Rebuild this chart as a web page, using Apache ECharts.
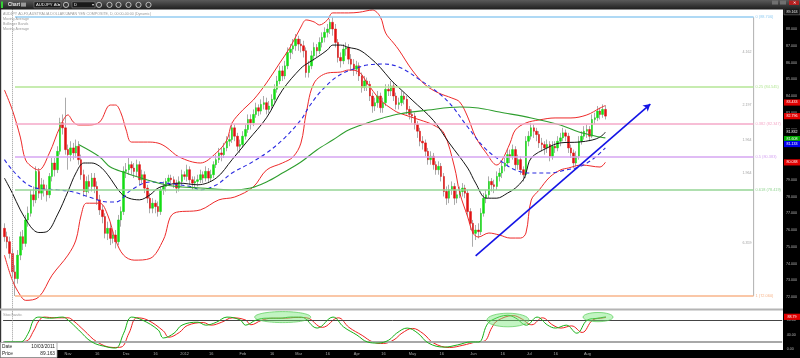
<!DOCTYPE html>
<html><head><meta charset="utf-8">
<script src="https://cdn.jsdelivr.net/npm/echarts/dist/echarts.min.js"></script>
<style>html,body{margin:0;padding:0;background:#fff;}#c{width:800px;height:358px;}</style>
</head><body><div id="c"></div>
<script>
// ---------------- DATA ----------------
const startDate = '2011-09-28';
const totalBars = 294;   // trading-day slots on the axis (data + empty future)
const open = [
76.1,75.6,75.3,74.6,73.5,73.1,74.5,75.6,75.2,76.6,
77.0,78.1,77.8,79.5,78.2,78.7,78.4,78.1,79.2,80.0,
79.6,80.7,82.4,82.1,80.8,80.5,80.9,80.6,81.0,80.2,
79.3,78.3,78.9,78.6,79.1,78.6,77.8,77.2,76.8,75.8,
76.1,75.5,75.7,75.3,76.6,77.1,79.5,79.6,79.9,79.7,
79.5,79.9,79.0,79.3,78.5,77.9,77.3,77.6,77.4,77.1,
78.4,78.6,78.9,79.1,79.0,78.8,78.5,78.9,79.3,79.2,
79.6,79.0,78.8,78.9,79.0,79.3,79.1,79.5,79.1,79.3,
79.9,80.2,80.6,80.5,80.9,81.3,81.4,82.1,81.6,81.0,
81.1,81.6,82.0,82.6,82.4,82.9,83.3,83.1,83.5,83.6,
83.2,83.4,83.8,84.4,84.9,85.5,85.2,85.8,86.6,86.8,
87.0,87.4,87.1,87.0,86.7,85.4,85.8,86.4,86.9,86.7,
87.2,87.5,87.8,88.0,88.4,88.0,87.2,86.3,86.1,86.8,
86.9,86.2,85.9,85.6,85.8,85.2,84.5,84.9,84.7,84.0,
83.4,83.6,84.0,83.3,83.6,84.4,84.3,84.6,84.0,83.5,
83.6,84.0,83.8,83.2,82.9,82.8,82.3,81.9,81.3,81.2,
80.7,80.2,80.4,79.9,79.6,79.8,79.2,78.3,77.9,78.4,
78.6,77.9,78.1,78.3,78.5,78.2,77.1,76.4,75.8,76.0,
75.9,77.0,77.9,78.1,78.9,78.7,78.6,79.2,79.4,79.8,
80.0,80.5,80.4,80.8,79.9,80.2,79.6,79.3,81.3,81.6,
82.1,81.9,81.7,81.2,81.1,80.9,81.1,80.4,81.0,80.9,
81.3,81.5,81.8,81.6,80.9,80.6,80.0,80.4,81.3,81.6,
81.9,82.0,81.6,82.6,82.7,83.1,82.9,83.2];
const close = [
75.6,75.3,74.6,73.5,73.1,74.5,75.6,75.2,76.6,77.0,
78.1,77.8,79.5,78.2,78.7,78.4,78.1,79.2,80.0,79.6,
80.7,82.4,82.1,80.8,80.5,80.9,80.6,81.0,80.2,79.3,
78.3,78.9,78.6,79.1,78.6,77.8,77.2,76.8,75.8,76.1,
75.5,75.7,75.3,76.6,77.1,79.5,79.6,79.9,79.7,79.5,
79.9,79.0,79.3,78.5,77.9,77.3,77.6,77.4,77.1,78.4,
78.6,78.9,79.1,79.0,78.8,78.5,78.9,79.3,79.2,79.6,
79.0,78.8,78.9,79.0,79.3,79.1,79.5,79.1,79.3,79.9,
80.2,80.6,80.5,80.9,81.3,81.4,82.1,81.6,81.0,81.1,
81.6,82.0,82.6,82.4,82.9,83.3,83.1,83.5,83.6,83.2,
83.4,83.8,84.4,84.9,85.5,85.2,85.8,86.6,86.8,87.0,
87.4,87.1,87.0,86.7,85.4,85.8,86.4,86.9,86.7,87.2,
87.5,87.8,88.0,88.4,88.0,87.2,86.3,86.1,86.8,86.9,
86.2,85.9,85.6,85.8,85.2,84.5,84.9,84.7,84.0,83.4,
83.6,84.0,83.3,83.6,84.4,84.3,84.6,84.0,83.5,83.6,
84.0,83.8,83.2,82.9,82.8,82.3,81.9,81.3,81.2,80.7,
80.2,80.4,79.9,79.6,79.8,79.2,78.3,77.9,78.4,78.6,
77.9,78.1,78.3,78.5,78.2,77.1,76.4,75.8,76.0,75.9,
77.0,77.9,78.1,78.9,78.7,78.6,79.2,79.4,79.8,80.0,
80.5,80.4,80.8,79.9,80.2,79.6,79.3,81.3,81.6,82.1,
81.9,81.7,81.2,81.1,80.9,81.1,80.4,81.0,80.9,81.3,
81.5,81.8,81.6,80.9,80.6,80.0,80.4,81.3,81.6,81.9,
82.0,81.6,82.6,82.7,83.1,82.9,83.2,82.8];
const low = [
75.3,74.9,74.3,73.2,72.06,72.8,74.2,74.8,75.0,76.2,
76.8,77.4,77.6,77.9,77.8,78.0,77.7,77.9,78.9,79.2,
79.4,80.5,81.7,80.5,79.6,80.1,80.2,80.3,79.9,79.0,
78.0,78.0,78.2,78.3,78.2,77.5,76.9,76.4,75.5,75.4,
75.1,75.2,74.9,75.1,76.2,76.9,79.1,79.3,79.3,79.1,
79.2,78.7,78.8,78.2,77.6,77.0,77.0,77.0,76.8,76.9,
78.1,78.3,78.7,78.8,78.5,78.2,78.3,78.7,79.0,78.9,
78.7,78.4,78.5,78.6,78.8,78.8,78.9,78.8,78.9,79.1,
79.7,80.0,80.1,80.3,80.7,81.0,81.2,81.3,80.7,80.6,
80.9,81.4,81.8,82.0,82.2,82.7,82.8,82.9,83.2,82.9,
83.0,83.2,83.6,84.2,84.7,84.9,85.0,85.6,86.2,86.5,
86.7,86.7,86.6,86.3,85.1,85.1,85.6,86.1,86.3,86.5,
86.9,87.2,87.5,87.7,87.6,86.9,86.0,85.7,85.9,86.4,
85.9,85.5,85.2,85.3,84.9,84.2,84.3,84.3,83.7,83.0,
83.1,83.3,83.0,83.0,83.4,84.0,84.0,83.7,83.2,83.2,
83.4,83.5,82.9,82.6,82.4,82.0,81.5,81.0,80.8,80.4,
79.9,79.9,79.6,79.3,79.3,78.9,78.0,77.5,77.6,78.1,
77.5,77.6,77.9,78.0,77.9,76.8,76.0,75.0,75.4,75.5,
75.7,76.8,77.6,77.9,78.3,78.2,78.4,78.9,79.1,79.5,
79.8,80.0,80.2,79.6,79.6,79.3,78.9,79.1,81.0,81.4,
81.5,81.3,80.9,80.7,80.5,80.6,80.1,80.2,80.6,80.7,
81.0,81.3,81.3,80.6,80.3,79.7,79.8,80.2,81.1,81.4,
81.5,81.3,81.5,82.3,82.5,82.6,82.7,82.6];
const high = [
76.4,75.9,75.6,74.9,73.9,74.8,75.9,76.0,76.9,77.4,
78.4,78.6,79.8,79.7,79.1,79.0,78.7,79.4,80.3,80.3,
81.0,82.7,82.9,83.9,81.1,81.3,81.2,81.4,81.3,80.5,
79.6,79.2,79.3,79.4,79.4,78.9,78.1,77.5,77.0,76.5,
76.4,76.0,76.0,76.9,77.4,79.8,80.0,80.3,80.1,80.0,
80.2,80.1,79.6,79.5,78.7,78.2,77.9,77.8,77.7,78.6,
78.9,79.1,79.3,79.3,79.2,79.0,79.2,79.6,79.5,79.9,
79.8,79.2,79.2,79.3,79.6,79.5,79.8,79.7,79.6,80.1,
80.5,80.9,80.9,81.2,81.6,81.7,82.4,82.3,81.8,81.4,
81.9,82.3,82.9,82.9,83.2,83.6,83.5,83.8,84.0,83.9,
83.7,84.1,84.7,85.2,85.8,85.8,86.1,86.9,87.1,87.4,
87.7,87.6,87.4,87.3,86.9,86.1,86.7,87.2,87.1,87.5,
87.8,88.1,88.3,88.6,88.706,88.3,87.4,86.6,87.1,87.2,
87.1,86.5,86.2,86.1,86.0,85.4,85.2,85.1,84.9,84.2,
83.9,84.3,84.2,83.9,84.7,84.7,84.9,84.8,84.2,83.9,
84.3,84.2,84.0,83.4,83.2,83.0,82.5,82.1,81.6,81.4,
80.9,80.7,80.6,80.1,80.1,80.0,79.4,78.6,78.7,78.9,
78.8,78.4,78.6,78.8,78.7,78.4,77.3,76.6,76.3,76.4,
77.3,78.2,78.4,79.2,79.1,79.0,79.5,79.7,80.1,80.3,
80.8,80.8,81.1,81.0,80.5,80.4,79.8,81.6,81.9,82.4,
82.3,82.1,81.9,81.5,81.3,81.4,81.3,81.3,81.3,81.6,
81.8,82.1,82.0,81.8,81.1,80.8,80.7,81.6,81.9,82.2,
82.3,82.2,82.9,83.0,83.4,83.3,83.5,83.43];

// indicator lines: [bar slot, value]
const bbUpper = [[0,84.36],[3,83.16],[6,81.55],[8,80.18],[11,79.7],[13,79.58],[17,80.6],[21,82.15],[24,82.87],[26,82.45],[28,82.27],[32,82.27],[36,82.45],[40,83.46],[42,83.46],[44,82.99],[46,81.97],[48,81.25],[54,81.25],[58,81.19],[61,80.96],[66,80.36],[74,80.0],[80,80.6],[84,81.37],[86,82.39],[90,83.16],[94,83.76],[99,84.78],[104,85.97],[108,86.93],[112,88.12],[114,88.54],[117,88.42],[119,88.24],[122,88.54],[124,88.96],[130,88.96],[134,89.0],[139,89.13],[142,88.72],[144,87.76],[147,87.16],[149,86.75],[154,85.55],[159,84.66],[164,84.18],[169,83.88],[172,83.64],[175,82.75],[178,81.55],[182,80.6],[186,79.88],[188,80.18],[191,81.19],[193,81.97],[197,82.39],[202,82.57],[208,82.69],[214,82.69],[220,82.87],[225,83.28],[227,83.43]];
const bbLower = [[0,74.5],[3,73.0],[6,72.1],[8,71.8],[13,72.0],[18,73.3],[24,74.5],[27,75.4],[29,76.9],[31,77.6],[36,77.6],[39,76.9],[42,75.4],[45,74.5],[49,74.2],[55,74.3],[60,75.4],[64,77.0],[74,77.2],[81,77.8],[87,77.97],[94,78.57],[99,79.58],[105,80.0],[109,80.36],[112,81.19],[114,82.99],[117,84.78],[122,85.37],[127,85.43],[130,85.55],[134,85.43],[137,84.78],[142,83.76],[147,83.16],[149,82.99],[157,82.57],[162,82.27],[166,81.79],[170,79.76],[172,78.21],[175,76.78],[177,75.82],[179,75.58],[183,75.82],[187,75.7],[191,75.52],[195,75.52],[197,75.82],[199,77.79],[202,78.39],[206,79.16],[210,79.58],[213,79.7],[218,79.88],[225,79.76],[227,80.04]];
const maBlack = [[0,79.1],[3,78.2],[6,77.2],[9,76.4],[11,76.0],[13,75.85],[16,75.9],[20,76.9],[24,78.3],[27,79.4],[30,80.0],[33,80.0],[36,79.8],[39,79.3],[44,78.2],[47,77.9],[51,77.8],[55,78.1],[58,78.5],[62,78.7],[66,78.8],[73,78.7],[80,79.1],[86,80.2],[92,81.35],[99,82.7],[105,84.35],[112,85.66],[115,86.0],[118,86.3],[122,86.75],[124,87.04],[127,87.04],[130,86.9],[134,86.75],[138,86.3],[142,85.7],[146,84.95],[149,84.5],[154,83.76],[162,82.55],[168,81.2],[175,79.7],[178,78.8],[182,77.9],[186,77.9],[190,78.2],[193,78.5],[196,79.0],[197,79.4],[199,80.3],[205,80.9],[210,81.2],[217,81.25],[222,81.37],[225,81.55],[227,81.83]];
const maBlue = [[0,80.2],[3,79.58],[8,78.8],[12,78.5],[20,78.4],[26,78.27],[32,77.97],[39,77.67],[42,77.67],[48,78.4],[55,78.87],[61,78.8],[66,78.7],[71,78.57],[74,78.39],[80,78.69],[86,79.4],[93,80.0],[99,80.6],[105,81.37],[112,82.57],[115,83.34],[119,84.18],[124,84.96],[128,85.37],[133,85.67],[137,85.85],[143,85.91],[149,85.73],[157,84.96],[167,83.76],[175,82.15],[181,80.96],[187,80.18],[193,79.58],[199,79.4],[206,79.4],[212,79.58],[217,79.76],[222,80.2],[227,80.9]];
const maGreen = [[28,81.1],[36,80.36],[40,79.76],[46,79.4],[48,79.28],[54,78.99],[61,78.69],[67,78.57],[74,78.51],[86,78.39],[93,78.51],[99,78.87],[105,79.4],[112,80.06],[118,80.78],[124,81.37],[130,81.97],[137,82.39],[143,82.69],[149,82.93],[160,83.16],[172,83.34],[179,83.28],[187,83.04],[199,82.69],[210,82.27],[217,81.85],[225,81.55],[227,81.5]];
const stochK = [[0,20],[6,20],[9,44],[11,80],[13,88],[17,85],[22,88],[24,80],[28,53],[33,20],[39,6],[42,3.5],[45,44],[48,88],[52,80],[58,53],[60,31],[64,44],[67,66],[73,74],[76,66],[80,74],[84,88],[89,80],[91,66],[95,80],[99,85],[104,85],[108,88],[112,88],[118,58],[124,88],[128,61],[133,39],[137,20],[141,17],[145,25],[148,44],[152,58],[156,44],[160,17],[166,6],[171,12],[176,20],[179,20],[182,66],[184,80],[190,93],[193,85],[197,66],[201,88],[205,66],[208,58],[212,66],[216,44],[220,80],[224,85],[227,88.79]];
const stochD = [[0,20],[8,22],[11,50],[13,78],[15,88],[19,86],[24,86],[26,78],[30,52],[35,20],[41,5],[44,6],[47,44],[50,86],[54,80],[60,50],[62,33],[66,46],[69,65],[75,73],[78,66],[82,74],[86,86],[91,80],[93,67],[97,79],[101,85],[106,85],[110,87],[114,86],[120,60],[126,86],[130,60],[135,38],[139,20],[143,16],[147,26],[150,44],[154,57],[158,43],[162,17],[168,5],[173,11],[178,20],[181,22],[184,60],[186,78],[192,92],[195,84],[199,67],[203,86],[207,66],[210,58],[214,64],[218,46],[222,80],[226,86],[227,87]];

const fibRatios = ['0','0.25','0.382','0.5','0.618','1'];
const fibPrices = [88.706, 84.545, 82.347, 80.383, 78.419, 72.060];
const fibGaps = ['4.162','2.197','1.964','1.964','6.359'];
const fibStart = 4, fibEnd = 283;
const trendFrom = [178, 74.45], trendTo = [244, 83.52];
const crossSlot = 3; // 10/03/2011
const priceTags = [
  {v:83.433, bg:'#e00000'}, {v:82.796, bg:'#e00000'}, {v:81.832, bg:'#000'},
  {v:81.608, bg:'#00a800'}, {v:81.133, bg:'#0000e8'}, {v:80.038, bg:'#e00000'}];
const stochTag = 88.79;

// ---------------- BUILD ----------------
const dates = [];
{ let d = new Date(startDate + 'T00:00:00Z');
  while (dates.length < totalBars) { const w = d.getUTCDay(); if (w !== 0 && w !== 6) dates.push(d.toISOString().slice(0,10)); d.setUTCDate(d.getUTCDate()+1); } }
const mon = ['Jan','Feb','Mar','Apr','May','Jun','Jul','Aug','Sep','Oct','Nov','Dec'];
const xLab = {};
for (let k = 1; k < close.length; k++) {
  const a = dates[k-1].split('-').map(Number), b = dates[k].split('-').map(Number);
  if (a[1] !== b[1]) xLab[k] = b[1] === 1 ? String(b[0]) : mon[b[1]-1];
  else if (b[2] >= 16 && a[2] < 16) xLab[k] = '16';
}
const wickData = close.map((c,i)=>[open[i], c, low[i], high[i]]);
const bodyData = close.map((c,i)=>[open[i], c, Math.min(open[i],c), Math.max(open[i],c)]);
const FONT = 'Liberation Sans, Arial, sans-serif';
const fibColors = ['#94cdf2','#b4e696','#f5a9c8','#d6a6f2','#94d494','#f8b58a'];

const GL = 3.1, GW = 779.1;
const option = {
  animation: false,
  backgroundColor: '#fff',
  textStyle: {fontFamily: FONT},
  grid: [
    {left: GL, width: GW, top: 3.875, height: 309.875},
    {left: GL, width: GW, top: 312.7, height: 36.6}
  ],
  xAxis: [
    {type:'category', gridIndex:0, data:dates, boundaryGap:true, axisLine:{show:false}, axisTick:{show:false}, axisLabel:{show:false}, splitLine:{show:false}},
    {type:'category', gridIndex:1, data:dates, boundaryGap:true, axisLine:{show:false}, axisTick:{show:false}, splitLine:{show:false},
     axisLabel:{show:true, color:'#a8a8a8', fontSize:3.9, margin:2.6, interval:(i)=>xLab[i]!==undefined, formatter:(v,i)=>xLab[i]||''}}
  ],
  yAxis: [
    {type:'value', gridIndex:0, position:'right', min:71, max:89.5, interval:1,
     axisLine:{show:false}, axisTick:{show:false}, splitLine:{show:false},
     axisLabel:{color:'#b8b8b8', fontSize:3.6, margin:4.6, formatter:(v)=> (v>=72 && v<=88 && Math.abs(v-Math.round(v))<1e-6) ? v.toFixed(3) : ''}},
    {type:'value', gridIndex:1, position:'right', min:0, max:100, interval:40,
     axisLine:{show:false}, axisTick:{show:false}, splitLine:{show:false},
     axisLabel:{color:'#b8b8b8', fontSize:3.6, margin:4.6, formatter:(v)=> v===100 ? '' : v.toFixed(2)}}
  ],
  series: [
    {type:'candlestick', name:'wick', xAxisIndex:0, yAxisIndex:0, data:wickData, barWidth:1, z:2,
     itemStyle:{color:'#ababab', color0:'#ababab', borderColor:'#ababab', borderColor0:'#ababab', borderWidth:1},
     markLine:{silent:true, symbol:['none','none'], label:{show:false}, lineStyle:{color:'#9a9a9a', type:[1,1], width:1},
       data:[{xAxis: crossSlot}]}},
    {type:'candlestick', name:'body', xAxisIndex:0, yAxisIndex:0, data:bodyData, barWidth:2, z:3,
     itemStyle:{color:'#14dc14', color0:'#e01212', borderColor:'#14dc14', borderColor0:'#e01212', borderWidth:0.5}},
    {type:'line', name:'BB upper', data:bbUpper, smooth:0.35, symbol:'none', z:4, lineStyle:{color:'#ee2a2a', width:1}},
    {type:'line', name:'BB lower', data:bbLower, smooth:0.35, symbol:'none', z:4, lineStyle:{color:'#ee2a2a', width:1}},
    {type:'line', name:'MA black', data:maBlack, smooth:0.35, symbol:'none', z:4, lineStyle:{color:'#151515', width:1}},
    {type:'line', name:'MA blue', data:maBlue, smooth:0.35, symbol:'none', z:4, lineStyle:{color:'#2a2ae0', width:1.1, type:[4,3]}},
    {type:'line', name:'MA green', data:maGreen, smooth:0.35, symbol:'none', z:4, lineStyle:{color:'#2e9e2e', width:1.1}},
    // Fibonacci tool: vertical measure line + levels
    {type:'line', name:'fib', data:[[fibEnd, fibPrices[0]],[fibEnd, fibPrices[5]]], symbol:'none', z:3, lineStyle:{color:'#b0b0b0', width:1},
     markLine:{silent:true, symbol:['none','none'],
       label:{show:true, position:'end', distance:2, fontSize:3.9, formatter:'{b}'},
       data: fibPrices.map((p,i)=>[
         {coord:[fibStart,p], name: fibRatios[i]+' ('+p.toFixed(3)+')', lineStyle:{color:fibColors[i], width:1.6, type:'solid'}, label:{color:fibColors[i]}},
         {coord:[fibEnd,p]}])}},
    {type:'scatter', name:'fibgap', symbolSize:0, z:5,
     data: fibGaps.map((t,i)=>[fibEnd, (fibPrices[i]+fibPrices[i+1])/2, t]),
     label:{show:true, position:'left', distance:2, color:'#8a8a8a', fontSize:3.6, formatter:(p)=>p.data[2]}},
    {type:'line', name:'trend', data:[], z:6,
     markLine:{silent:true, symbol:['none','arrow'], symbolSize:[6,7], label:{show:false},
       lineStyle:{color:'#1414e6', width:1.6, type:'solid'},
       data:[[{coord:trendFrom},{coord:trendTo}]]}},
    // stochastic panel
    {type:'line', name:'%D', xAxisIndex:1, yAxisIndex:1, data:stochD, smooth:0.4, symbol:'none', z:4, lineStyle:{color:'#ee2020', width:1}},
    {type:'line', name:'%K', xAxisIndex:1, yAxisIndex:1, data:stochK, smooth:0.4, symbol:'none', z:5, lineStyle:{color:'#18b018', width:1},
     markLine:{silent:true, symbol:['none','none'], label:{show:false},
       data:[{yAxis:80, lineStyle:{color:'#444', width:1, type:'solid'}},
             {yAxis:20, lineStyle:{color:'#a8a8a8', width:1.8, type:'solid'}},
             {xAxis:crossSlot, lineStyle:{color:'#9a9a9a', width:1, type:[1,1]}}]}}
  ]
};

const chart = echarts.init(document.getElementById('c'));
chart.setOption(option);

// ---------------- OVERLAY DECORATIONS ----------------
const P = (k,v,g)=>chart.convertToPixel({gridIndex:g}, [k,v]);
const gr = [];
const txt = (x,y,t,o)=>gr.push(Object.assign({type:'text', x, y, z:50, silent:true,
  style:Object.assign({text:t, fill:'#999', font:'3.8px '+FONT, textVerticalAlign:'middle'}, o||{})}));
gr.push({type:'rect', z:-5, silent:true, shape:{x:783, y:9, width:17, height:349}, style:{fill:'#000'}});
gr.push({type:'rect', z:-5, silent:true, shape:{x:0, y:350, width:800, height:8}, style:{fill:'#000'}});
gr.push({type:'rect', z:-5, silent:true, shape:{x:0, y:9, width:1.2, height:341}, style:{fill:'#333'}});
gr.push({type:'line', z:5, silent:true, shape:{x1:0, y1:309.5, x2:783, y2:309.5}, style:{stroke:'#b4b4b4', lineWidth:2}});
gr.push({type:'rect', z:60, silent:true, shape:{x:0,y:0,width:800,height:9.5},
  style:{fill:new echarts.graphic.LinearGradient(0,0,0,1,[{offset:0,color:'#5a5a5a'},{offset:1,color:'#1e1e1e'}])}});
gr.push({type:'rect', z:61, silent:true, shape:{x:1,y:1.5,width:2,height:6.5}, style:{fill:'#36d036'}});
gr.push({type:'text', z:61, silent:true, x:8, y:5, style:{text:'Chart', fill:'#e8e8e8', font:'bold 4.6px '+FONT, textVerticalAlign:'middle'}});
gr.push({type:'rect', z:61, silent:true, shape:{x:21,y:2.6,width:5,height:4}, style:{fill:'#9a9a9a'}});
gr.push({type:'rect', z:61, silent:true, shape:{x:34,y:1.8,width:27,height:6}, style:{fill:'#1a1a1a', stroke:'#808080', lineWidth:0.6}});
gr.push({type:'text', z:62, silent:true, x:36, y:4.9, style:{text:'AUDJPY A0-', fill:'#eee', font:'4.2px '+FONT, textVerticalAlign:'middle'}});
gr.push({type:'text', z:62, silent:true, x:57.5, y:4.9, style:{text:'▾', fill:'#ddd', font:'4px '+FONT, textVerticalAlign:'middle'}});
gr.push({type:'rect', z:61, silent:true, shape:{x:72,y:1.8,width:23,height:6}, style:{fill:'#1a1a1a', stroke:'#808080', lineWidth:0.6}});
gr.push({type:'text', z:62, silent:true, x:74, y:4.9, style:{text:'D', fill:'#eee', font:'4.2px '+FONT, textVerticalAlign:'middle'}});
gr.push({type:'text', z:62, silent:true, x:91.5, y:4.9, style:{text:'▾', fill:'#ddd', font:'4px '+FONT, textVerticalAlign:'middle'}});
[66, 99, 109.5, 118.5, 128.5, 138.5, 148.5].forEach(cx=>gr.push({type:'circle', z:61, silent:true, shape:{cx, cy:4.9, r:2.6}, style:{fill:'#3a3a3a', stroke:'#d8d8d8', lineWidth:0.8}}));
[772, 780].forEach(x=>gr.push({type:'rect', z:61, silent:true, shape:{x, y:0.5, width:6, height:4}, style:{fill:'#707070'}}));
gr.push({type:'rect', z:61, silent:true, shape:{x:789,y:0.5,width:10,height:4.5}, style:{fill:'#b52020'}});
gr.push({type:'text', z:62, silent:true, x:794, y:2.8, style:{text:'✕', fill:'#fff', font:'4px '+FONT, textAlign:'center', textVerticalAlign:'middle'}});
txt(3, 14, 'AUDJPY A0-FX,AUSTRALIA DOLLAR/JAPAN YEN COMPOSITE, D, 00:00-00:00 (Dynamic)', {font:'3.6px '+FONT});
txt(3, 19.3, 'Moving Average', {font:'3.6px '+FONT});
txt(3, 24.2, 'Bollinger Bands', {font:'3.6px '+FONT});
txt(3, 29.1, 'Moving Average', {font:'3.6px '+FONT});
txt(3, 314.6, 'Stochastic', {font:'4.2px '+FONT});
[[105, 88, 28, 5.5], [190, 80, 21, 6.8], [224, 88, 15, 4.6]].forEach(e=>{
  const c = P(e[0], e[1], 1);
  gr.push({type:'ellipse', z:40, silent:true, shape:{cx:c[0], cy:c[1], rx:e[2], ry:e[3]},
    style:{fill:'rgba(120,230,120,0.45)', stroke:'rgba(90,205,90,0.9)', lineWidth:0.8}});
});
const tag = (y, t, bg, fg, stroke) => {
  gr.push({type:'rect', z:55, silent:true, shape:{x:784, y:y-3.1, width:16, height:6.2}, style:{fill:bg, stroke:stroke||null, lineWidth:0.6}});
  gr.push({type:'text', z:56, silent:true, x:792, y:y, style:{text:t, fill:fg||'#fff', font:'3.6px '+FONT, textAlign:'center', textVerticalAlign:'middle'}});
};
tag(11.7, '89.163', '#151515', '#eee', '#777');
const nudge = [-3, 0, 0, 3, 0, 0];
priceTags.forEach((p,i)=>{ const y = P(0, p.v, 0)[1] + nudge[i]; tag(y, p.v.toFixed(3), p.bg); });
tag(P(0, stochTag, 1)[1], stochTag.toFixed(2), '#e00000');
gr.push({type:'rect', z:70, silent:true, shape:{x:0.5, y:342.5, width:56.5, height:15}, style:{fill:'#fff', stroke:'#9a9a9a', lineWidth:0.8}});
gr.push({type:'text', z:71, silent:true, x:2, y:346.6, style:{text:'Date', fill:'#222', font:'4.8px '+FONT, textVerticalAlign:'middle'}});
gr.push({type:'text', z:71, silent:true, x:55, y:346.6, style:{text:'10/03/2011', fill:'#222', font:'4.8px '+FONT, textAlign:'right', textVerticalAlign:'middle'}});
gr.push({type:'text', z:71, silent:true, x:2, y:353.8, style:{text:'Price', fill:'#222', font:'4.8px '+FONT, textVerticalAlign:'middle'}});
gr.push({type:'text', z:71, silent:true, x:55, y:353.8, style:{text:'89.163', fill:'#222', font:'4.8px '+FONT, textAlign:'right', textVerticalAlign:'middle'}});
chart.setOption({graphic: gr});
</script></body></html>
